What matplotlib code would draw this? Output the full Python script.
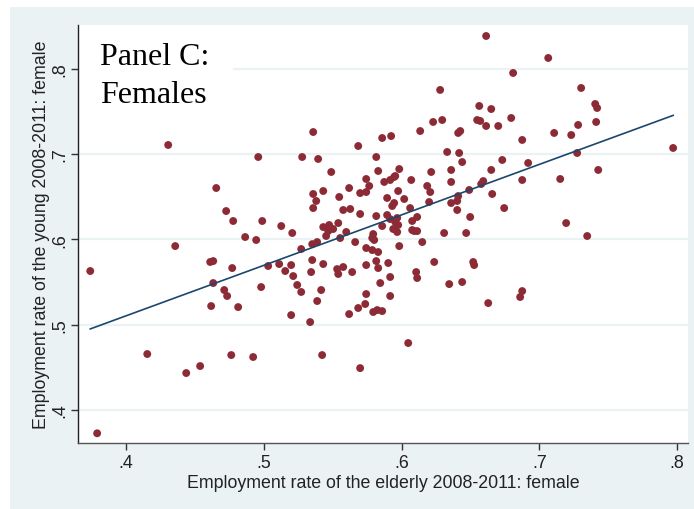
import numpy as np
import matplotlib
matplotlib.use("Agg")
import matplotlib.pyplot as plt
from matplotlib.patches import Rectangle

# Employment rate of the elderly (x) and of the young (y), females 2008-2011
elderly = [
    0.4305, 0.4959, 0.4654, 0.4726, 0.4777, 0.4988, 0.5126, 0.5358, 0.5278, 0.5394,
    0.5489, 0.5431, 0.5358, 0.5380, 0.5358, 0.5206, 0.4864, 0.4944, 0.5431, 0.5474,
    0.5540, 0.5467, 0.5452, 0.5503, 0.5271, 0.5351, 0.5387, 0.6614, 0.7065, 0.6810,
    0.7304, 0.6280, 0.6564, 0.6651, 0.7406, 0.7420, 0.6571, 0.6614, 0.6702, 0.6796,
    0.7413, 0.7282, 0.6876, 0.7108, 0.7232, 0.7972, 0.7275, 0.6731, 0.6651, 0.6919,
    0.7428, 0.6593, 0.6578, 0.6876, 0.7152, 0.6658, 0.6745, 0.7195, 0.5685, 0.5859,
    0.5924, 0.6135, 0.6229, 0.6295, 0.6411, 0.6426, 0.6549, 0.5816, 0.6331, 0.6418,
    0.6440, 0.5830, 0.5983, 0.6215, 0.6360, 0.5946, 0.5917, 0.5954, 0.5743, 0.6070,
    0.5874, 0.6360, 0.6186, 0.6208, 0.5619, 0.5765, 0.6491, 0.5699, 0.5743, 0.5975,
    0.5547, 0.5895, 0.6019, 0.5946, 0.5932, 0.6200, 0.6360, 0.6411, 0.6404, 0.5576,
    0.5627, 0.6062, 0.6113, 0.6077, 0.5699, 0.5816, 0.5895, 0.5917, 0.5968, 0.5954,
    0.6404, 0.6498, 0.5598, 0.5859, 0.5939, 0.5975, 0.5968, 0.6077, 0.6092, 0.6113,
    0.5794, 0.5787, 0.5801, 0.6309, 0.6469, 0.5554, 0.5663, 0.5743, 0.5787, 0.5830,
    0.5983, 0.6150, 0.5532, 0.5576, 0.5540, 0.5641, 0.5743, 0.5816, 0.5830, 0.5903,
    0.6237, 0.6106, 0.6113, 0.5917, 0.5845, 0.6346, 0.6440, 0.5743, 0.5917, 0.5736,
    0.5685, 0.5794, 0.5823, 0.5859, 0.5619, 0.6048, 0.5699, 0.4610, 0.4632, 0.4770,
    0.5031, 0.5111, 0.5198, 0.5155, 0.5213, 0.5351, 0.5431, 0.5343, 0.4632, 0.4712,
    0.4733, 0.4980, 0.5242, 0.5271, 0.5416, 0.5387, 0.4617, 0.4813, 0.5198, 0.5336,
    0.4763, 0.4922, 0.5423, 0.4537, 0.4356, 0.3739, 0.4153, 0.4436, 0.3789, 0.6520,
    0.6527, 0.6629, 0.7348, 0.6876, 0.6861,
]
young = [
    0.7107, 0.6966, 0.6602, 0.6332, 0.6215, 0.6215, 0.6156, 0.7259, 0.6966, 0.6943,
    0.6790, 0.6567, 0.6532, 0.6450, 0.6367, 0.6074, 0.6027, 0.5992, 0.6144, 0.6168,
    0.6191, 0.6097, 0.6039, 0.6121, 0.5886, 0.5944, 0.5968, 0.8386, 0.8128, 0.7952,
    0.7776, 0.7753, 0.7565, 0.7529, 0.7588, 0.7541, 0.7389, 0.7330, 0.7330, 0.7424,
    0.7377, 0.7342, 0.7166, 0.7248, 0.7224, 0.7072, 0.7013, 0.6931, 0.6814, 0.6896,
    0.6814, 0.6684, 0.6649, 0.6696, 0.6708, 0.6532, 0.6367, 0.6191, 0.7095, 0.7189,
    0.7212, 0.7271, 0.7377, 0.7400, 0.7248, 0.7271, 0.7400, 0.6966, 0.7025, 0.7013,
    0.6907, 0.6802, 0.6825, 0.6790, 0.6814, 0.6731, 0.6696, 0.6743, 0.6708, 0.6696,
    0.6673, 0.6673, 0.6626, 0.6555, 0.6602, 0.6626, 0.6579, 0.6543, 0.6555, 0.6567,
    0.6497, 0.6485, 0.6473, 0.6426, 0.6391, 0.6438, 0.6426, 0.6508, 0.6450, 0.6344,
    0.6356, 0.6367, 0.6262, 0.6215, 0.6297, 0.6273, 0.6285, 0.6238, 0.6250, 0.6203,
    0.6344, 0.6262, 0.6086, 0.6156, 0.6121, 0.6168, 0.6086, 0.6109, 0.6097, 0.6097,
    0.6062, 0.6015, 0.5992, 0.6074, 0.6074, 0.6015, 0.5968, 0.5898, 0.5874, 0.5851,
    0.5921, 0.5968, 0.5651, 0.5675, 0.5593, 0.5616, 0.5698, 0.5745, 0.5663, 0.5722,
    0.5734, 0.5616, 0.5546, 0.5558, 0.5487, 0.5475, 0.5499, 0.5358, 0.5335, 0.5241,
    0.5194, 0.5147, 0.5170, 0.5158, 0.5123, 0.4783, 0.4489, 0.5734, 0.5745, 0.5663,
    0.5687, 0.5710, 0.5698, 0.5628, 0.5569, 0.5757, 0.5710, 0.5616, 0.5487, 0.5405,
    0.5335, 0.5440, 0.5464, 0.5382, 0.5405, 0.5276, 0.5217, 0.5205, 0.5111, 0.5029,
    0.4642, 0.4619, 0.4642, 0.4513, 0.5921, 0.5628, 0.4654, 0.4431, 0.3724, 0.5734,
    0.5698, 0.5252, 0.6039, 0.5393, 0.5323,
]

# Fitted line
fit_slope = 0.592
fit_intercept = 0.2735

x_ticks = [0.4, 0.5, 0.6, 0.7, 0.8]
x_ticklabels = [".4", ".5", ".6", ".7", ".8"]
y_ticks = [0.4, 0.5, 0.6, 0.7, 0.8]
y_ticklabels = [".4", ".5", ".6", ".7", ".8"]

x_label = "Employment rate of the elderly 2008-2011: female"
y_label = "Employment rate of the young 2008-2011: female"
panel_text = "Panel C:\nFemales"

BG = "#EAF2F3"
MARKER = "#8C2B35"
LINE = "#1A476F"
FS = 12.8

plt.rcParams["font.family"] = ["Liberation Sans", "DejaVu Sans"]

fig = plt.figure(figsize=(6.94, 5.10), dpi=100, facecolor=BG)
fig.patches.append(Rectangle((0, 0), 10 / 694, 1, transform=fig.transFigure,
                             facecolor="white", edgecolor="none", zorder=-5))
fig.patches.append(Rectangle((0, 1 - 8 / 510), 1, 8 / 510, transform=fig.transFigure,
                             facecolor="white", edgecolor="none", zorder=-5))

ax = fig.add_axes([78 / 694, 66 / 510, 610 / 694, 418 / 510])
ax.set_facecolor("white")

xa = np.array(elderly)
ya = np.array(young)

ax.scatter(xa, ya, s=32, color=MARKER, edgecolors="none", zorder=3)

xs = np.array([xa.min(), xa.max()])
ax.plot(xs, fit_intercept + fit_slope * xs, color=LINE, lw=1.2, zorder=4)

ax.set_xlim(0.365, 0.808)
ax.set_ylim(0.361, 0.8515)

ax.set_xticks(x_ticks)
ax.set_xticklabels(x_ticklabels, fontsize=FS)
ax.set_yticks(y_ticks)
ax.set_yticklabels(y_ticklabels, fontsize=FS, rotation=90, va="center")
ax.tick_params(axis="both", direction="out", length=5, width=1, color="#333333",
               labelcolor="#222222")
ax.tick_params(axis="x", pad=3)
ax.tick_params(axis="y", pad=2)

ax.yaxis.grid(True, color=BG, lw=1.6, zorder=0)
ax.xaxis.grid(False)
ax.set_axisbelow(True)

for s in ["top", "right"]:
    ax.spines[s].set_visible(False)
ax.spines["left"].set_color("#222222")
ax.spines["bottom"].set_color("#555555")
ax.spines["left"].set_linewidth(1.0)
ax.spines["bottom"].set_linewidth(1.0)

ax.set_xlabel(x_label, fontsize=FS, color="#222222", labelpad=2)
ax.set_ylabel(y_label, fontsize=FS, color="#222222", labelpad=1)

ax.add_patch(Rectangle((0, 1 - 95 / 418), 155 / 610, 95 / 418, transform=ax.transAxes,
                       facecolor="white", edgecolor="none", zorder=1))
ax.text(22 / 610, 1 - 17 / 418, panel_text, transform=ax.transAxes,
        fontsize=23, family=["Liberation Serif", "DejaVu Serif"], va="top", ha="left",
        linespacing=1.4, color="black", zorder=5)

fig.savefig("out.png", dpi=100, facecolor=BG)
